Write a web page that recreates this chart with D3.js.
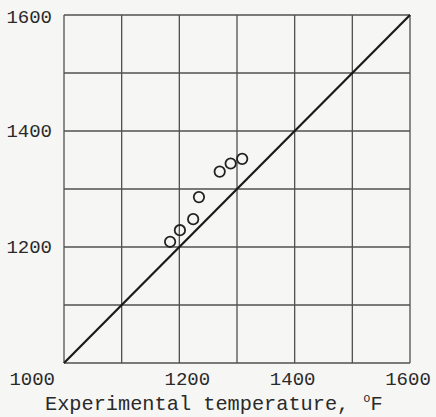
<!DOCTYPE html>
<html>
<head>
<meta charset="utf-8">
<script src="https://cdn.jsdelivr.net/npm/d3@7"></script>
<style>
  html, body { margin: 0; padding: 0; background: #f6f6f4; }
  text { font-family: "Courier New", Courier, "Nimbus Mono PS", FreeMono, "Liberation Mono", monospace; fill: #2a2a2a; }
</style>
</head>
<body>
<div id="chart"></div>
<script>
// experimental vs calculated temperature, deg F
var expTemp  = [1184, 1201, 1224, 1234, 1270, 1289, 1309];
var calcTemp = [1209, 1229, 1248, 1286, 1330, 1344, 1352];
var gridValues = [1000, 1100, 1200, 1300, 1400, 1500, 1600];
var xTickLabels = [1000, 1200, 1400, 1600];
var yTickLabels = [1200, 1400, 1600];
var lineOfPerfect = [1000, 1600];

var width = 436, height = 417;
var svg = d3.select('#chart').append('svg').attr('width', width).attr('height', height);

var x = d3.scaleLinear().domain([1000, 1600]).range([64, 410]);
var y = d3.scaleLinear().domain([1000, 1600]).range([363, 15]);

var grid = svg.append('g').attr('class', 'grid')
	.attr('stroke', '#505050').attr('stroke-width', 1.3);

grid.selectAll('line.v').data(gridValues).enter().append('line')
	.attr('class', 'v')
	.attr('x1', function (d) { return x(d); })
	.attr('x2', function (d) { return x(d); })
	.attr('y1', y(1600)).attr('y2', y(1000));

grid.selectAll('line.h').data(gridValues).enter().append('line')
	.attr('class', 'h')
	.attr('y1', function (d) { return y(d); })
	.attr('y2', function (d) { return y(d); })
	.attr('x1', x(1000)).attr('x2', x(1600));

// 45 degree line
svg.append('line')
	.attr('x1', x(lineOfPerfect[0])).attr('y1', y(lineOfPerfect[0]))
	.attr('x2', x(lineOfPerfect[1])).attr('y2', y(lineOfPerfect[1]))
	.attr('stroke', '#1a1a1a').attr('stroke-width', 2.2);

svg.selectAll('circle').data(expTemp).enter().append('circle')
	.attr('cx', function (d) { return x(d); })
	.attr('cy', function (d, i) { return y(calcTemp[i]); })
	.attr('r', 5.2)
	.attr('fill', 'none')
	.attr('stroke', '#222').attr('stroke-width', 1.8);

// tick labels
svg.selectAll('text.xt').data(xTickLabels).enter().append('text')
	.attr('class', 'xt')
	.attr('x', function (d) { return d === 1000 ? x(d) - 9 : x(d) + (d === 1200 ? 8 : -2); })
	.attr('y', 385)
	.attr('text-anchor', function (d) { return d === 1000 ? 'end' : 'middle'; })
	.style('font-size', '19px')
	.text(function (d) { return d; });

svg.selectAll('text.yt').data(yTickLabels).enter().append('text')
	.attr('class', 'yt')
	.attr('x', 52)
	.attr('y', function (d) { return y(d) + (d === 1600 ? 8 : 6); })
	.attr('text-anchor', 'end')
	.style('font-size', '19px')
	.text(function (d) { return d; });

var xl = svg.append('text')
	.attr('x', 45).attr('y', 410)
	.style('font-size', '20.3px')
	.text('Experimental temperature,');
xl.append('tspan').attr('dx', 14).attr('dy', -8).style('font-size', '12px').text('o');
xl.append('tspan').attr('dy', 8).text('F');
</script>
</body>
</html>
